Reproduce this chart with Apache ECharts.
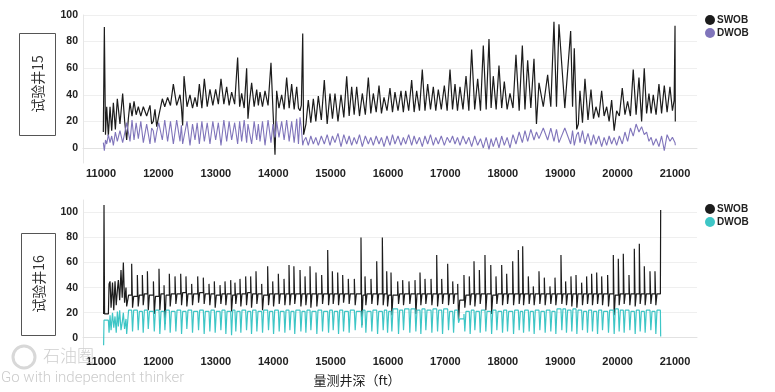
<!DOCTYPE html>
<html><head><meta charset="utf-8">
<script src="https://cdn.jsdelivr.net/npm/echarts@6/dist/echarts.min.js"></script>
<style>html,body{margin:0;padding:0;background:#fff}#c{width:775px;height:392px}</style>
</head><body><div id="c"></div>
<script>
// ---------- data ----------
const depthTicks = [11000,12000,13000,14000,15000,16000,17000,18000,19000,20000,21000];
const wobTicks = [0,20,40,60,80,100];
const seriesNames = ['SWOB','DWOB'];
const wellNames = ['试验井15','试验井16'];
const xTitle = '量测井深（ft）';

// 试验井15
const well15Depth = [
11040,11058,11078,11099,11128,11157,11186,11215,11250,11284,
11330,11377,11412,11447,11476,11505,11540,11575,11612,11650,
11693,11737,11795,11853,11882,11910,11940,11970,12005,12068,
12110,12160,12210,12260,12318,12376,12400,12422,12446,12498,
12550,12594,12637,12675,12713,12757,12800,12850,12898,12948,
12997,13044,13090,13140,13189,13232,13276,13328,13380,13415,
13450,13494,13537,13560,13580,13624,13668,13712,13741,13770,
13813,13857,13910,13961,13996,14031,14060,14100,14147,14190,
14234,14278,14321,14365,14409,14440,14467,14490,14514,14530,
14570,14611,14655,14699,14742,14786,14838,14890,14940,14989,
15032,15076,15128,15181,15230,15280,15323,15367,15410,15454,
15503,15552,15605,15657,15700,15744,15794,15843,15886,15930,
15982,16034,16078,16121,16174,16226,16267,16308,16360,16412,
16455,16499,16548,16597,16644,16691,16740,16789,16832,16876,
16928,16981,17030,17080,17124,17167,17210,17254,17306,17359,
17408,17457,17510,17562,17611,17660,17710,17759,17796,17834,
17884,17933,17980,18026,18075,18125,18177,18229,18285,18340,
18386,18433,18488,18543,18586,18630,18705,18781,18836,18891,
18935,18978,19080,19182,19215,19245,19287,19316,19344,19388,
19431,19484,19536,19580,19623,19672,19722,19765,19809,19852,
19896,19940,19983,20030,20081,20128,20174,20223,20272,20322,
20372,20418,20464,20505,20546,20584,20621,20670,20720,20766,
20813,20862,20912,20955,20985,21000,21005];
const well15Swob = [
12,91,10,31,9,31,13,34,14,37,
18,41,20,6,22,34,24,35,25,31,
24,31,24,32,18,20,29,16,24,37,
31,38,32,48,32,40,31,17,54,31,
40,30,38,31,48,30,52,31,44,32,
44,33,52,33,46,32,42,33,68,31,
41,30,60,22,32,49,31,44,32,42,
31,43,32,64,28,-5,43,30,40,29,
53,30,48,29,46,30,28,32,86,10,
18,36,19,37,20,39,21,51,18,41,
22,41,20,40,23,54,24,46,25,46,
24,41,25,53,26,41,27,47,26,38,
28,45,27,42,28,43,27,43,28,51,
27,43,28,59,28,48,29,46,28,44,
29,47,28,59,29,48,28,46,29,54,
28,74,29,52,28,77,29,82,30,54,
29,62,30,50,29,41,30,70,28,77,
29,66,30,67,18,49,31,55,31,95,
31,93,30,88,31,75,14,18,43,19,
52,21,44,22,31,23,43,24,31,20,
36,13,28,24,45,25,35,24,59,25,
53,20,60,26,41,26,40,25,48,26,
47,27,46,28,36,92,20];
const well15Dwob = [
4,-2,6,3,10,4,9,2,12,5,
13,4,11,19,20,5,21,6,19,7,
20,4,18,3,15,13,4,12,19,6,
21,5,20,3,21,5,17,3,4,20,
2,18,6,19,3,20,5,19,3,20,
6,19,2,21,5,20,6,19,3,20,
5,21,4,18,19,3,20,6,18,5,
20,2,21,4,18,8,20,8,20,6,
21,5,20,4,22,3,23,15,2,5,
8,2,9,3,8,2,9,3,10,2,
9,4,11,1,10,3,9,2,8,3,
10,1,9,3,8,2,9,3,8,1,
9,2,10,3,9,2,8,3,10,2,
9,3,8,1,9,3,10,2,8,3,
9,2,8,4,9,3,8,2,9,3,
8,1,9,2,7,0,8,-1,7,1,
8,0,9,2,8,0,10,3,12,4,
13,5,14,6,12,7,15,6,15,5,
14,4,15,3,13,2,10,12,4,13,
3,11,2,10,3,9,1,8,2,9,
3,8,2,9,3,12,5,15,9,18,
12,16,10,12,5,8,2,7,1,9,
-2,10,5,8,7,4,2];

// 试验井16
const well16Depth = [
11045,11052,11062,11128,11140,11157,11175,11200,11222,11244,
11265,11285,11302,11325,11348,11369,11389,11410,11435,11447,11480,
11534,11549,11569, 11633,11648,11668, 11720,11735,11755, 11808,11823,11843,
11913,11928,11948, 12010,12025,12045, 12098,12113,12133, 12190,12205,12225,
12289,12304,12324, 12388,12403,12423, 12480,12495,12515, 12579,12594,12614,
12684,12699,12719, 12782,12797,12817, 12881,12896,12916, 12974,12989,13009,
13073,13088,13108, 13160,13175,13195, 13259,13274,13294, 13333,13348,13368,
13421,13436,13456, 13520,13535,13555, 13607,13622,13642, 13700,13715,13735,
13799,13814,13834, 13903,13918,13938, 13991,14006,14026, 14089,14104,14124,
14188,14203,14223, 14275,14290,14310, 14360,14375,14395, 14467,14482,14502,
14554,14569,14589, 14641,14656,14676, 14745,14760,14780, 14844,14859,14879,
14949,14964,14984, 15030,15045,15065, 15123,15138,15158, 15210,15225,15245,
15308,15323,15343, 15413,15428,15448, 15529,15544,15564, 15599,15614,15634,
15703,15718,15738, 15803,15818,15838, 15901,15916,15936, 15977,15992,16012,
16052,16067,16087, 16168,16183,16203, 16255,16270,16290, 16365,16380,16400,
16470,16485,16505, 16557,16572,16592, 16644,16659,16679, 16749,16764,16784,
16848,16863,16883, 16935,16950,16970, 17039,17054,17074, 17127,17142,17162,
17214,17229,17249, 17323,17338,17358, 17416,17431,17451, 17498,17513,17533,
17591,17606,17626, 17689,17704,17724, 17790,17805,17825, 17881,17896,17916,
17980,17995,18015, 18067,18082,18102, 18172,18187,18207, 18270,18285,18305,
18346,18361,18381, 18444,18459,18479, 18531,18546,18566, 18630,18645,18665,
18723,18738,18758, 18821,18836,18856, 18909,18924,18944, 19013,19028,19048,
19094,19109,19129, 19187,19202,19222, 19275,19290,19310, 19373,19388,19408,
19460,19475,19495, 19547,19562,19582, 19635,19650,19670, 19722,19737,19757,
19826,19841,19861, 19925,19940,19960, 20012,20027,20047, 20099,20114,20134,
20198,20213,20233, 20291,20306,20326, 20378,20393,20413, 20465,20480,20500,
20564,20579,20599, 20651,20666,20686,
20745,20750];
const well16Swob = [
19,106,19,20,43,45,24,44,22,45,
26,38,46,30,54,32,60,28,40,25,34,
59,24,33, 50,25,34, 50,26,35, 53,22,34,
45,19,33, 55,22,35, 42,11,34, 51,25,35,
49,27,35, 51,26,36, 49,25,35, 43,26,35,
49,28,36, 48,27,35, 43,26,35, 45,24,34,
42,27,35, 45,26,35, 46,21,34, 44,27,35,
47,25,35, 49,26,36, 49,24,35, 53,27,35,
43,22,34, 57,26,35, 45,25,35, 51,27,35,
47,26,35, 58,26,35, 57,27,35, 54,25,35,
49,26,35, 57,24,35, 52,25,35, 50,27,35,
70,26,35, 53,27,35, 52,26,35, 50,28,35,
47,27,35, 47,26,35, 80,10,34, 49,26,35,
47,27,35, 61,26,35, 80,26,35, 53,25,34,
52,18,34, 45,27,35, 46,26,35, 45,27,35,
46,19,35, 52,26,35, 47,27,35, 47,26,35,
66,25,35, 47,27,35, 59,26,35, 45,27,35,
43,14,30, 50,24,34, 49,26,35, 61,25,35,
54,27,35, 66,22,35, 58,19,34, 49,27,35,
58,26,35, 51,27,35, 61,26,35, 70,27,35,
73,26,35, 49,27,35, 41,26,35, 53,27,35,
48,26,35, 41,27,35, 48,26,35, 66,27,35,
45,26,35, 49,25,35, 50,24,35, 44,26,35,
49,27,35, 51,26,35, 52,27,35, 49,26,35,
50,25,35, 66,18,34, 63,26,35, 67,27,35,
50,26,35, 71,25,35, 75,27,35, 57,26,35,
53,27,35, 53,26,35,
35,102];
const well16Dwob = [
-6,14,14,13,4,18,6,20,8,17,
4,21,9,22,6,12,20,7,15,3,22,
21,5,22, 22,6,21, 21,4,22, 22,7,21,
21,5,22, 22,3,21, 21,6,22, 22,4,21,
21,5,22, 22,3,21, 21,7,22, 22,4,21,
21,6,22, 22,3,21, 21,5,22, 22,4,21,
21,6,22, 22,3,21, 21,2,22, 22,5,21,
21,4,22, 22,6,21, 21,3,22, 22,5,21,
21,4,22, 22,6,21, 21,3,22, 22,5,21,
21,4,22, 22,6,21, 21,3,22, 22,5,21,
21,4,22, 22,6,21, 21,3,22, 22,5,21,
21,4,22, 22,6,21, 21,3,22, 22,5,21,
21,4,22, 22,6,21, 21,8,22, 22,4,21,
21,5,22, 22,3,21, 21,6,22, 22,4,21,
22,5,23, 23,3,22, 23,6,23, 22,4,23,
23,5,22, 22,3,23, 23,6,22, 22,4,23,
23,5,22, 22,3,23, 22,6,21, 21,4,22,
21,12,15, 19,5,21, 21,3,22, 22,6,21,
21,4,22, 22,5,21, 21,3,22, 22,6,21,
21,4,22, 22,5,21, 21,3,22, 22,6,21,
21,4,22, 22,5,21, 21,3,22, 22,6,21,
21,4,22, 22,5,21, 22,3,23, 23,6,23,
23,4,22, 23,5,23, 22,3,22, 22,6,21,
21,4,22, 22,5,21, 21,3,22, 22,6,21,
21,4,22, 23,3,23, 22,5,22, 21,4,22,
22,6,21, 21,3,22, 22,5,21, 21,4,22,
22,6,21, 21,3,22,
21,1];

// ---------- chart ----------
const colors = { swob:'#1c1c1c', dwob15:'#8075bb', dwob16:'#3ec6c6' };
const pairs = (xs, ys) => xs.map((x, i) => [x, ys[i]]);
const labelFont = '"Liberation Sans", Arial, sans-serif';
const cjkFont = '"Noto Sans CJK SC", sans-serif';

function xAxisFor(i, margin) {
  return {
    type:'value', gridIndex:i, min:10686, max:21383,
    axisLine:{show:true, lineStyle:{color:'#e2e2e2', width:1}},
    axisTick:{show:false},
    splitLine:{show:false},
    axisLabel:{customValues:depthTicks, formatter:(v)=>String(v), fontSize:11, fontWeight:'bold', color:'#222', fontFamily:labelFont, margin:margin}
  };
}
function yAxisFor(i, min, max) {
  return {
    type:'value', gridIndex:i, min:min, max:max,
    axisLine:{show:true, lineStyle:{color:'#e6e6e6', width:1}},
    axisTick:{show:false, customValues:wobTicks},
    splitLine:{show:true, lineStyle:{color:'#efefef', width:1}},
    axisLabel:{customValues:wobTicks, fontSize:10.5, fontWeight:'bold', color:'#222', fontFamily:labelFont, margin:5}
  };
}
function legendFor(top, dwobColor) {
  return {
    orient:'vertical', left:700, top:top, icon:'circle',
    itemWidth:10, itemHeight:10, itemGap:3, selectedMode:false,
    textStyle:{fontSize:10, fontWeight:'bold', color:'#222', fontFamily:labelFont, padding:[0,0,0,-3]},
    data:[{name:seriesNames[0], itemStyle:{color:colors.swob}}, {name:seriesNames[1], itemStyle:{color:dwobColor}}]
  };
}
function lineSeries(name, idx, data, color, width, step) {
  return { name:name, type:'line', xAxisIndex:idx, yAxisIndex:idx, data:data,
    showSymbol:false, symbol:'none', smooth:false, step:step,
    lineStyle:{color:color, width:width}, itemStyle:{color:color}, emphasis:{disabled:true} };
}

const chart = echarts.init(document.getElementById('c'), null, {renderer:'canvas'});
chart.setOption({
  animation:false,
  backgroundColor:'#fff',
  grid:[{left:83, right:78, top:15, height:148}, {left:83, right:78, top:200, height:152}],
  xAxis:[xAxisFor(0,5), xAxisFor(1,4)],
  yAxis:[yAxisFor(0,-11.3,100), yAxisFor(1,-11.4,110)],
  legend:[legendFor(10, colors.dwob15), legendFor(199, colors.dwob16)],
  series:[
    lineSeries(seriesNames[0], 0, pairs(well15Depth, well15Swob), colors.swob, 1.2, false),
    lineSeries(seriesNames[1], 0, pairs(well15Depth, well15Dwob), colors.dwob15, 1.1, false),
    lineSeries(seriesNames[0], 1, pairs(well16Depth, well16Swob), colors.swob, 1.2, 'end'),
    lineSeries(seriesNames[1], 1, pairs(well16Depth, well16Dwob), colors.dwob16, 1.2, 'end')
  ],
  graphic:[
    {type:'rect', shape:{x:19.5, y:33.5, width:36, height:102}, style:{fill:'#fff', stroke:'#555', lineWidth:1}},
    {type:'text', x:37.5, y:84, rotation:Math.PI/2, style:{text:wellNames[0], font:'14px '+cjkFont, fill:'#333', textAlign:'center', textVerticalAlign:'middle'}},
    {type:'rect', shape:{x:21.5, y:233.5, width:34, height:102}, style:{fill:'#fff', stroke:'#555', lineWidth:1}},
    {type:'text', x:38.5, y:284, rotation:Math.PI/2, style:{text:wellNames[1], font:'14px '+cjkFont, fill:'#333', textAlign:'center', textVerticalAlign:'middle'}},
    {type:'text', x:357, y:380, style:{text:xTitle, font:'13px '+cjkFont, fill:'#222', textAlign:'center', textVerticalAlign:'middle'}},
    {type:'circle', shape:{cx:24, cy:357, r:11}, style:{fill:'none', stroke:'#d8d8d8', lineWidth:3}, z:100},
    {type:'text', x:43, y:356, style:{text:'石油圈', font:'300 17px '+cjkFont, fill:'#cfcfcf', textVerticalAlign:'middle'}, z:100},
    {type:'text', x:1, y:378, style:{text:'Go with independent thinker', font:'300 15px Roboto, sans-serif', fill:'#cccccc', textVerticalAlign:'middle'}, z:100}
  ]
});
</script>
</body></html>
